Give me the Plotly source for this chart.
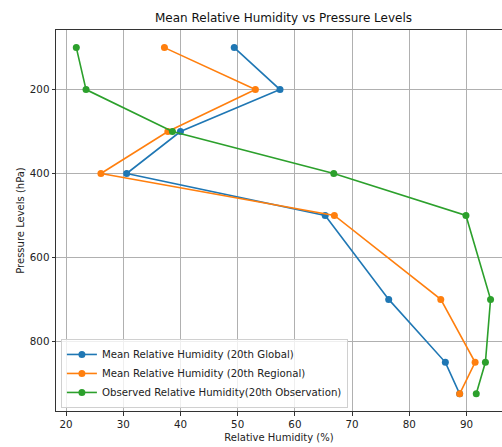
import plotly.graph_objects as go

pressure_levels = [100, 200, 300, 400, 500, 700, 850, 925]
rh_global = [49.4, 57.4, 40.0, 30.6, 65.3, 76.4, 86.3, 88.8]
rh_regional = [37.2, 53.1, 37.8, 26.1, 66.9, 85.5, 91.5, 88.8]
rh_observed = [21.8, 23.5, 38.6, 66.8, 89.9, 94.2, 93.3, 91.7]

series_names = [
    "Mean Relative Humidity (20th Global)",
    "Mean Relative Humidity (20th Regional)",
    "Observed Relative Humidity(20th Observation)",
]
colors = ["#1f77b4", "#ff7f0e", "#2ca02c"]

fig = go.Figure()
for name, vals, col in zip(series_names, [rh_global, rh_regional, rh_observed], colors):
    fig.add_trace(go.Scatter(
        x=vals, y=pressure_levels, mode="lines+markers", name=name,
        line=dict(color=col, width=1.6),
        marker=dict(color=col, size=7),
    ))

font = "DejaVu Sans, Arial, sans-serif"
axis_common = dict(
    showgrid=True, gridcolor="#b0b0b0", gridwidth=0.8,
    zeroline=False, showline=True, linecolor="#333333", linewidth=1,
    ticks="outside", ticklen=3.5, tickcolor="#333333", tickwidth=0.8,
    tickfont=dict(family=font, size=10.3, color="#222222"),
)
fig.update_layout(
    width=502, height=447,
    margin=dict(l=56, r=0, t=30, b=36),
    paper_bgcolor="white", plot_bgcolor="white",
    title=dict(text="Mean Relative Humidity vs Pressure Levels",
               x=283.5 / 502, xref="container", xanchor="center",
               y=1 - 18 / 447, yanchor="middle",
               font=dict(family=font, size=12, color="#111111")),
    xaxis=dict(axis_common, range=[18.25, 96.2], tickvals=[20, 30, 40, 50, 60, 70, 80, 90],
               mirror=True,
               title=dict(text="Relative Humidity (%)", standoff=5,
                          font=dict(family=font, size=10, color="#222222"))),
    yaxis=dict(axis_common, range=[966, 58], tickvals=[200, 400, 600, 800],
               title=dict(text="Pressure Levels (hPa)", standoff=3,
                          font=dict(family=font, size=10, color="#222222"))),
    legend=dict(x=0.011, y=0.008, xanchor="left", yanchor="bottom",
                bgcolor="rgba(255,255,255,0.8)", bordercolor="#d0d0d0", borderwidth=1,
                font=dict(family=font, size=10.2, color="#222222"),
                tracegroupgap=0, itemwidth=30),
    showlegend=True,
)
fig.write_html(
    "out.html",
    config={"displayModeBar": False},
    post_script="document.body.style.margin='0';document.body.style.overflow='hidden';",
)
